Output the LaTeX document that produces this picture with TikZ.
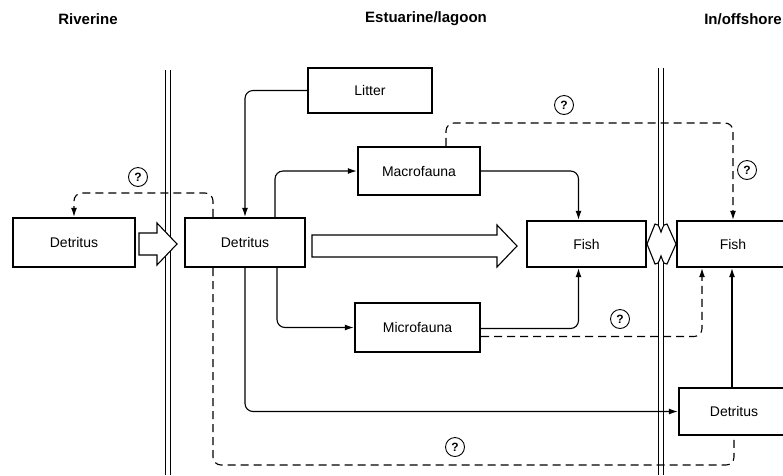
\documentclass[tikz,border=0pt]{standalone}
\usepackage{fontspec}
\setmainfont{Liberation Sans}
\usetikzlibrary{arrows.meta,calc}
\begin{document}
\begin{tikzpicture}[x=1pt,y=-1pt,
  box/.style={draw,line width=2.4pt,inner sep=0pt,font=\fontsize{14}{16}\selectfont},
  flow/.style={line width=1.1pt,rounded corners=8pt},
  arrowed/.style={-{Latex[length=9pt,width=6pt]}},
  query/.style={dash pattern=on 8pt off 5pt},
  qmark/.style={circle,draw,line width=0.9pt,inner sep=0pt,minimum size=19pt,font=\bfseries\fontsize{12}{14}\selectfont},
  zone/.style={font=\bfseries\fontsize{15}{18}\selectfont},
  hollow/.style={draw,fill=white,line width=1.1pt,line join=miter},
  divider/.style={line width=1pt}]
\clip (0,0) rectangle (783,475);

% zone headings
\node[zone] (hriver) at (88,19) {Riverine};
\node[zone] (hestu) at (426,19) {Estuarine/lagoon};
\node[zone,anchor=east,inner sep=0pt] (hoff) at (782,19) {In/offshore};

% zone boundaries
\draw[divider] (165,70) -- (165,475);
\draw[divider] (170,70) -- (170,475);
\draw[divider] (658,68) -- (658,475);
\draw[divider] (663,68) -- (663,475);

% compartments
\node[box,minimum width=122,minimum height=49] (det1) at (74,242.5) {Detritus};
\node[box,minimum width=120,minimum height=49] (det2) at (245,242.5) {Detritus};
\node[box,minimum width=124,minimum height=45] (litter) at (370,90.5) {Litter};
\node[box,minimum width=122,minimum height=48] (macro) at (419,171) {Macrofauna};
\node[box,minimum width=125,minimum height=49] (micro) at (417.5,327.5) {Microfauna};
\node[box,minimum width=119,minimum height=46] (fish1) at (586.5,244) {Fish};
\node[box,minimum width=112,minimum height=46] (fish2) at (733,244) {Fish};
\node[box,minimum width=110,minimum height=47] (det3) at (734,411.5) {Detritus};

% bulk transfers
\draw[hollow] (139,233) -- (157,233) -- (157,223) -- (177,244) -- (157,265) -- (157,255) -- (139,255) -- cycle;
\draw[hollow] (312,235) -- (497,235) -- (497,225) -- (517,246) -- (497,267) -- (497,257) -- (312,257) -- cycle;
\draw[hollow] (647,244) -- (655,224) .. controls (658,224) .. (661,232) .. controls (664,224) .. (667,224) -- (676,244)
  -- (667,264) .. controls (664,264) .. (661,256) .. controls (658,264) .. (655,264) -- cycle;

% established pathways
\draw[flow,arrowed] (litter.west) -| (det2.north);
\draw[flow,arrowed] ([xshift=30pt]det2.north) |- (macro.west);
\draw[flow,arrowed] ([xshift=32pt]det2.south) |- (micro.west);
\draw[flow,arrowed] (det2.south) |- (det3.west);
\draw[flow,arrowed] (macro.east) -| ([xshift=-8pt]fish1.north);
\draw[flow,arrowed] ([yshift=-1pt]micro.east) -| ([xshift=-8pt]fish1.south);
\draw[flow,arrowed] ([xshift=-2pt]det3.north) -- ([xshift=-2pt]det3.north |- fish2.south);

% uncertain pathways
\coordinate (riverq) at (213,193);
\coordinate (macroq) at (446,123);
\coordinate (loopq) at (213,465);
\draw[flow,query,arrowed] ([xshift=-32pt]det2.north) -- (riverq) -| (det1.north);
\draw[flow,query,arrowed] ([xshift=27pt]macro.north) -- (macroq) -| (fish2.north);
\draw[flow,query,arrowed] ([yshift=-9pt]micro.east) -| ([xshift=-31pt]fish2.south);
\draw[flow,query] ([xshift=-32pt]det2.south) -- (loopq) -| (det3.south);

% question marks
\node[qmark] (q1) at (138,177) {?};
\node[qmark] (q2) at (564,105) {?};
\node[qmark] (q3) at (747,170) {?};
\node[qmark] (q4) at (620,319) {?};
\node[qmark] (q5) at (455,447) {?};
\end{tikzpicture}
\end{document}
